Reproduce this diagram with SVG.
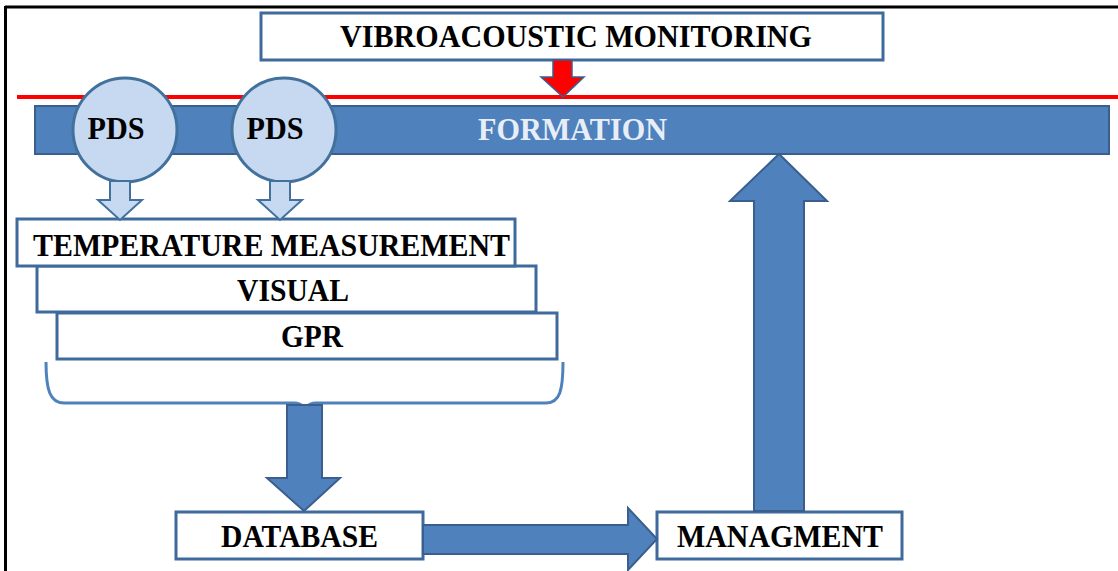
<svg xmlns="http://www.w3.org/2000/svg" width="1118" height="571" viewBox="0 0 1118 571">
<style>
.box{fill:#ffffff;stroke:#3f6a9c;stroke-width:3}
.lbl{font-family:"Liberation Serif","Times New Roman",serif;font-weight:bold;font-size:32px;fill:#000;text-anchor:middle}
.big{fill:#4f81bd;stroke:#3a5f8f;stroke-width:2;stroke-linejoin:miter}
.pds{fill:#c6d9f1;stroke:#41719c;stroke-width:3}
.parrow{fill:#c6d9f1;stroke:#41719c;stroke-width:2}
</style>
<rect x="0" y="0" width="1118" height="571" fill="#ffffff"/>
<g id="frame">
<line x1="5" y1="7" x2="1118" y2="7" stroke="#000" stroke-width="3"/>
<line x1="5.5" y1="6" x2="5.5" y2="571" stroke="#000" stroke-width="3"/>
</g>
<g id="formation">
<rect class="big" x="35" y="106" width="1074" height="48"/>
<text x="572.5" y="140" class="lbl" style="fill:#e8eef7" textLength="189" lengthAdjust="spacingAndGlyphs">FORMATION</text>
</g>
<g id="surface-line">
<line x1="17" y1="97" x2="1118" y2="97" stroke="#ff0000" stroke-width="4"/>
</g>
<g id="vibroacoustic">
<rect class="box" x="261" y="13" width="622" height="47"/>
<text x="576" y="47" class="lbl" textLength="472" lengthAdjust="spacingAndGlyphs">VIBROACOUSTIC MONITORING</text>
</g>
<g id="pds1">
<circle class="pds" cx="125" cy="130" r="52"/>
<text x="116" y="139" class="lbl" textLength="57" lengthAdjust="spacingAndGlyphs">PDS</text>
</g>
<g id="pds2">
<circle class="pds" cx="284" cy="130" r="52"/>
<text x="275" y="139" class="lbl" textLength="57" lengthAdjust="spacingAndGlyphs">PDS</text>
</g>
<g id="gpr">
<rect class="box" x="57" y="313" width="500" height="46"/>
<text x="312" y="347" class="lbl" textLength="62" lengthAdjust="spacingAndGlyphs">GPR</text>
</g>
<g id="visual">
<rect class="box" x="37" y="266" width="499" height="46"/>
<text x="293" y="301" class="lbl" textLength="112" lengthAdjust="spacingAndGlyphs">VISUAL</text>
</g>
<g id="temperature">
<rect class="box" x="17" y="219" width="498" height="47"/>
<text x="271.5" y="256" class="lbl" textLength="477" lengthAdjust="spacingAndGlyphs">TEMPERATURE MEASUREMENT</text>
</g>
<g id="database">
<rect class="box" x="176" y="512" width="247" height="47"/>
<text x="299.5" y="547" class="lbl" textLength="157" lengthAdjust="spacingAndGlyphs">DATABASE</text>
</g>
<g id="managment">
<rect class="box" x="657" y="512" width="245" height="47"/>
<text x="780" y="547" class="lbl" textLength="206" lengthAdjust="spacingAndGlyphs">MANAGMENT</text>
</g>
<g id="connectors">
<path d="M553,60 L572,60 L572,77 L584,77 L563,97 L541,77 L553,77 Z" fill="#ff0000" stroke="#3a5f8f" stroke-width="1.5"/>
<path class="parrow" d="M110,181 L130,181 L130,200 L142,200 L120,220 L98,200 L110,200 Z"/>
<path class="parrow" d="M270,181 L290,181 L290,200 L302,200 L280,220 L258,200 L270,200 Z"/>
<path d="M46,362 C46,390 50,403 64,403 L294,403 C299,403 302,405 305,408 C308,405 311,403 316,403 L546,403 C560,403 563,390 563,362" fill="none" stroke="#4f81bd" stroke-width="3"/>
<path class="big" d="M287,405 L322,405 L322,478 L340,478 L304,511 L267,478 L287,478 Z"/>
<path class="big" d="M423,525 L628,525 L628,508 L657,539 L628,570 L628,554 L423,554 Z"/>
<path class="big" d="M754,511 L754,201 L730,201 L779,154 L827,201 L804,201 L804,511 Z"/>
</g>
</svg>
